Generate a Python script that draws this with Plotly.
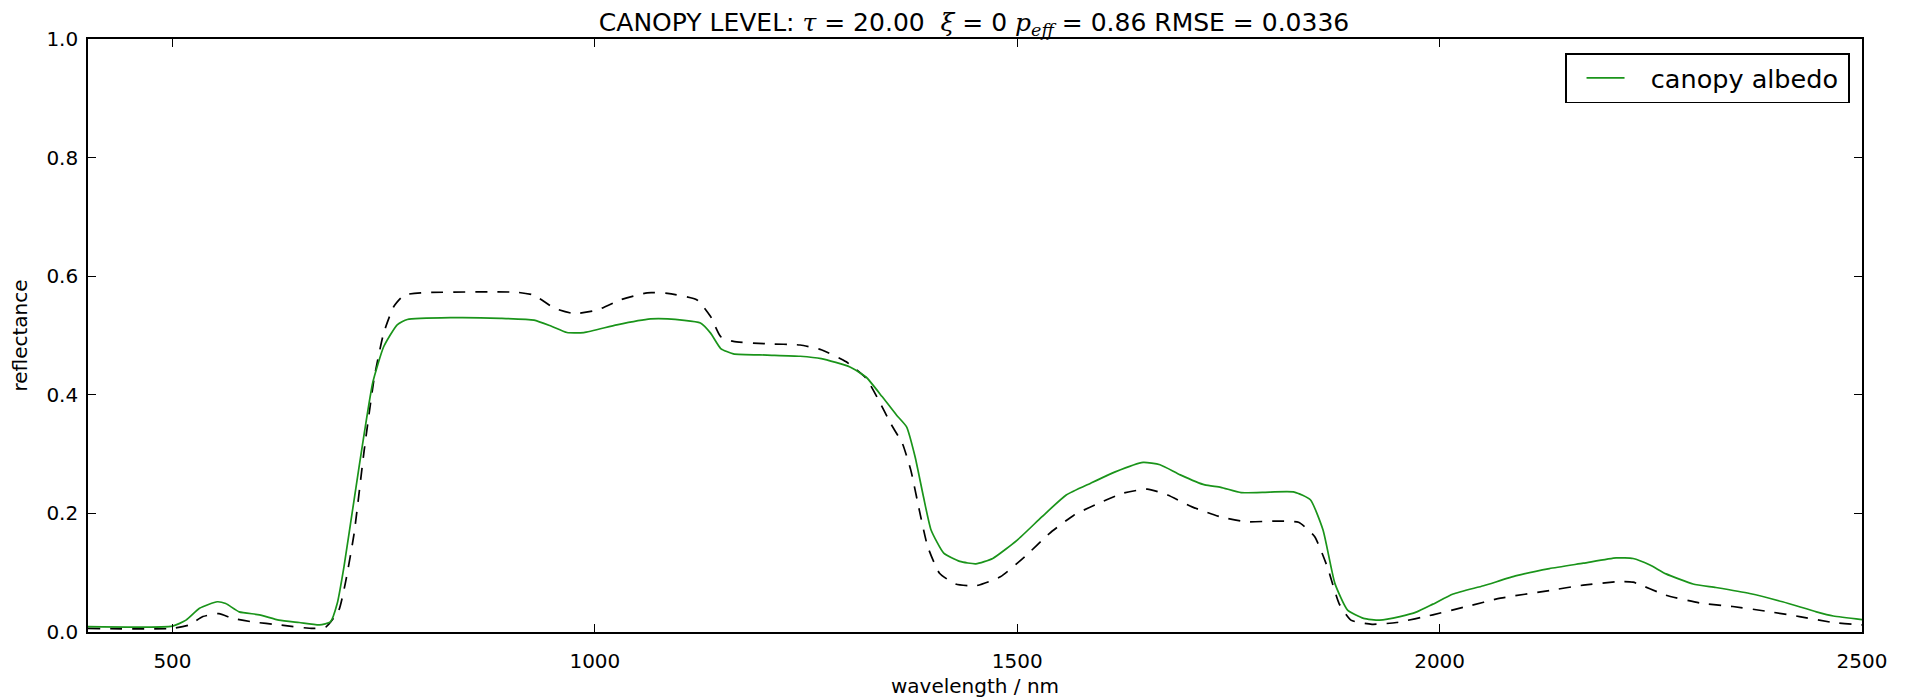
import plotly.graph_objects as go

# canopy albedo (green solid)
wl_albedo = [400, 500, 516, 532, 553, 563, 579, 603, 626, 650, 674, 687, 695, 703, 715, 727, 737,
             750, 766, 778, 830, 888, 928, 948, 967, 987, 1026, 1066, 1086, 1125, 1137, 1149, 1164,
             1204, 1243, 1268, 1302, 1321, 1340, 1357, 1369, 1379, 1389, 1398, 1413, 1432, 1451,
             1471, 1500, 1529, 1558, 1587, 1616, 1649, 1669, 1693, 1722, 1741, 1765, 1799, 1828,
             1847, 1862, 1876, 1891, 1910, 1929, 1953, 1973, 1992, 2016, 2052, 2091, 2130, 2170,
             2209, 2229, 2249, 2268, 2300, 2327, 2367, 2406, 2446, 2466, 2500]
albedo = [0.009, 0.010, 0.020, 0.040, 0.051, 0.048, 0.034, 0.029, 0.020, 0.016, 0.012, 0.017,
          0.048, 0.110, 0.223, 0.335, 0.420, 0.481, 0.518, 0.527, 0.530, 0.529, 0.526, 0.516,
          0.505, 0.505, 0.518, 0.528, 0.528, 0.521, 0.504, 0.478, 0.469, 0.467, 0.465, 0.461,
          0.447, 0.430, 0.397, 0.366, 0.346, 0.296, 0.228, 0.172, 0.133, 0.119, 0.115, 0.124,
          0.155, 0.194, 0.231, 0.251, 0.270, 0.286, 0.282, 0.265, 0.248, 0.244, 0.235, 0.236,
          0.236, 0.223, 0.172, 0.082, 0.037, 0.023, 0.020, 0.026, 0.034, 0.047, 0.064, 0.078,
          0.095, 0.107, 0.116, 0.125, 0.124, 0.113, 0.098, 0.081, 0.075, 0.065, 0.051, 0.034,
          0.027, 0.021]

# reference spectrum (black dashed)
wl_ref = [400, 500, 520, 536, 555, 571, 595, 626, 666, 682, 697, 705, 715, 727, 739, 750, 762,
          774, 794, 907, 928, 952, 975, 1003, 1030, 1062, 1086, 1121, 1137, 1149, 1164, 1204,
          1243, 1268, 1297, 1321, 1336, 1350, 1364, 1374, 1384, 1394, 1408, 1427, 1451, 1480,
          1509, 1538, 1567, 1596, 1625, 1654, 1678, 1707, 1741, 1770, 1809, 1833, 1852, 1867,
          1881, 1895, 1920, 1949, 1992, 2032, 2072, 2130, 2170, 2213, 2229, 2268, 2308, 2347,
          2387, 2426, 2466, 2500]
ref = [0.006, 0.006, 0.012, 0.026, 0.031, 0.023, 0.017, 0.012, 0.006, 0.009, 0.037, 0.085,
       0.166, 0.307, 0.430, 0.504, 0.549, 0.568, 0.572, 0.573, 0.568, 0.546, 0.537, 0.543, 0.560,
       0.572, 0.571, 0.560, 0.532, 0.498, 0.490, 0.486, 0.484, 0.476, 0.456, 0.428, 0.391, 0.352,
       0.318, 0.273, 0.206, 0.144, 0.099, 0.081, 0.078, 0.093, 0.127, 0.166, 0.197, 0.217, 0.234,
       0.241, 0.231, 0.211, 0.194, 0.186, 0.187, 0.185, 0.161, 0.110, 0.048, 0.020, 0.013, 0.016,
       0.029, 0.043, 0.057, 0.070, 0.079, 0.085, 0.084, 0.062, 0.049, 0.043, 0.035, 0.026, 0.016,
       0.012]

x_ticks = [500, 1000, 1500, 2000, 2500]
y_ticks = [0.0, 0.2, 0.4, 0.6, 0.8, 1.0]

FONT = "DejaVu Sans"
MATH = "font-family:'DejaVu Serif'"

fig = go.Figure()
fig.add_trace(go.Scatter(x=wl_ref, y=ref, mode="lines", showlegend=False,
                         line=dict(color="black", width=1.7, dash="12px,10px", shape="spline", smoothing=0.5)))
fig.add_trace(go.Scatter(x=wl_albedo, y=albedo, mode="lines",
                         name="&nbsp;&nbsp;\u2009canopy albedo\u2009",
                         line=dict(color="#1a941a", width=1.7, shape="spline", smoothing=0.5)))

title = ("CANOPY LEVEL: <span style=\"" + MATH + "\"><i>τ</i></span> = 20.00&nbsp; "
         "<span style=\"" + MATH + "\"><i>ξ</i></span> = 0 "
         "<span style=\"" + MATH + "\"><i>p<sub>eff</sub></i></span> = 0.86 RMSE = 0.0336")

axis_common = dict(showgrid=False, zeroline=False, showline=True, linecolor="black", linewidth=1.6,
                   mirror="ticks", ticks="inside", ticklen=8, tickwidth=1, tickcolor="black",
                   automargin=False,
                   tickfont=dict(family=FONT, size=20, color="black"))

fig.update_layout(
    width=1908, height=698,
    margin=dict(l=88, r=46, t=39, b=66),
    paper_bgcolor="white", plot_bgcolor="white",
    font=dict(family=FONT, color="black"),
    title=dict(text=title, x=0.5105, xanchor="center", y=1 - 22 / 698, yanchor="middle",
               yref="container", automargin=False, font=dict(family=FONT, size=25, color="black")),
    xaxis=dict(range=[400, 2500], tickvals=x_ticks, ticktext=[str(v) for v in x_ticks],
               ticklabelstandoff=10,
               title=dict(text="wavelength / nm", font=dict(family=FONT, size=20), standoff=12),
               **axis_common),
    yaxis=dict(range=[0, 1], tickvals=y_ticks, ticktext=[f"{v:.1f}" for v in y_ticks],
               ticklabelstandoff=4,
               title=dict(text="reflectance", font=dict(family=FONT, size=20), standoff=13),
               **axis_common),
    legend=dict(x=0.9932, xanchor="right", y=0.976, yanchor="top", bgcolor="white",
                bordercolor="black", borderwidth=1.6,
                font=dict(family=FONT, size=25.5, color="black"),
                indentation=15, itemwidth=38),
)

fig.write_html("out.html")
